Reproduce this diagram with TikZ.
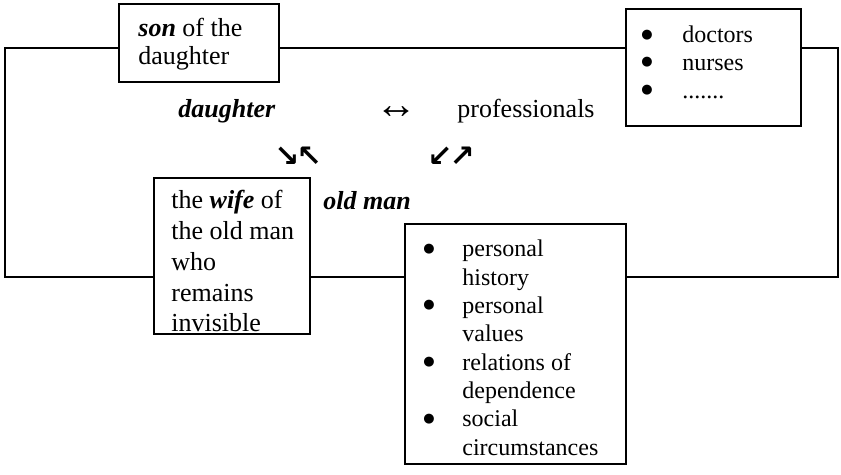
\documentclass[tikz,border=0pt]{standalone}
\usepackage{fontspec}
\setmainfont{Liberation Serif}
\newfontfamily\arrowfont{DejaVu Sans}
\begin{document}
\begin{tikzpicture}[x=0.5pt,y=-0.5pt]
\tikzset{
  box/.style={draw, line width=0.85pt, fill=white, inner sep=0pt, anchor=north west},
  frame/.style={line width=0.6pt},
  big/.style={font=\fontsize{13}{15}\selectfont, anchor=base west, inner sep=0pt},
  small/.style={font=\fontsize{12}{13.8}\selectfont, anchor=base west, inner sep=0pt},
  bul/.style={font=\arrowfont\fontsize{6.5}{6.5}\selectfont, anchor=center, inner sep=0pt},
  arr/.style={font=\arrowfont\bfseries\fontsize{15}{15}\selectfont, anchor=center, inner sep=0pt},
  dbl/.style={font=\fontsize{21}{21}\selectfont, anchor=center, inner sep=0pt},
}
\useasboundingbox (0,0) rectangle (841,475);
% corners of the frame
\coordinate (tl) at (5,48);
\coordinate (tr) at (838,48);
\coordinate (bl) at (5,277);
\coordinate (br) at (838,277);
% boxes
\node[box, minimum width=80pt, minimum height=39pt] (son) at (118,3) {};
\node[box, minimum width=87.5pt, minimum height=58.5pt] (doc) at (625,8) {};
\node[box, minimum width=78pt, minimum height=78pt] (wife) at (153,177) {};
\node[box, minimum width=110.5pt, minimum height=120pt] (pers) at (404,223) {};
% frame connectors
\draw[frame] (son.west |- tl) -- (tl) -- (bl) -- (wife.west |- bl);
\draw[frame] (wife.east |- bl) -- (pers.west |- bl);
\draw[frame] (pers.east |- br) -- (br) -- (tr) -- (doc.east |- tr);
\draw[frame] (doc.west |- tr) -- (son.east |- tr);
% son box text
\node[big] (s1) at (138,37) {\textbf{\textit{son}} of the};
\node[big] (s2) at (138,65) {daughter};
% doctors box
\node[bul] (db1) at (647,35) {●};
\node[small] (d1) at (682,43) {doctors};
\node[bul] (db2) at (647,62.6) {●};
\node[small] (d2) at (682,70.6) {nurses};
\node[bul] (db3) at (647,90.2) {●};
\node[small] (d3) at (682,98.2) {.......};
% free texts
\node[big] (daughter) at (178,118) {\textbf{\textit{daughter}}};
\node[dbl] (lr) at (396,113) {↔};
\node[big] (prof) at (457,118) {professionals};
\node[arr] (a1) at (298,157) {↘\kern-1.5pt↖};
\node[arr] (a2) at (451,157) {↙\kern-1.5pt↗};
\node[big] (oldman) at (323,210) {\textbf{\textit{old man}}};
% wife box
\node[big] (w1) at (171,209) {the \textbf{\textit{wife}} of};
\node[big] (w2) at (171,239.7) {the old man};
\node[big] (w3) at (171,270.4) {who};
\node[big] (w4) at (171,301.1) {remains};
\node[big] (w5) at (171,331.8) {invisible};
% personal box
\node[bul] (pb1) at (429,249) {●};
\node[small] (p1) at (462,257) {personal};
\node[small] (p2) at (462,285.3) {history};
\node[bul] (pb2) at (429,305.6) {●};
\node[small] (p3) at (462,313.6) {personal};
\node[small] (p4) at (462,341.9) {values};
\node[bul] (pb3) at (429,362.2) {●};
\node[small] (p5) at (462,370.2) {relations of};
\node[small] (p6) at (462,398.5) {dependence};
\node[bul] (pb4) at (429,418.8) {●};
\node[small] (p7) at (462,426.8) {social};
\node[small] (p8) at (462,455.1) {circumstances};
\end{tikzpicture}
\end{document}
